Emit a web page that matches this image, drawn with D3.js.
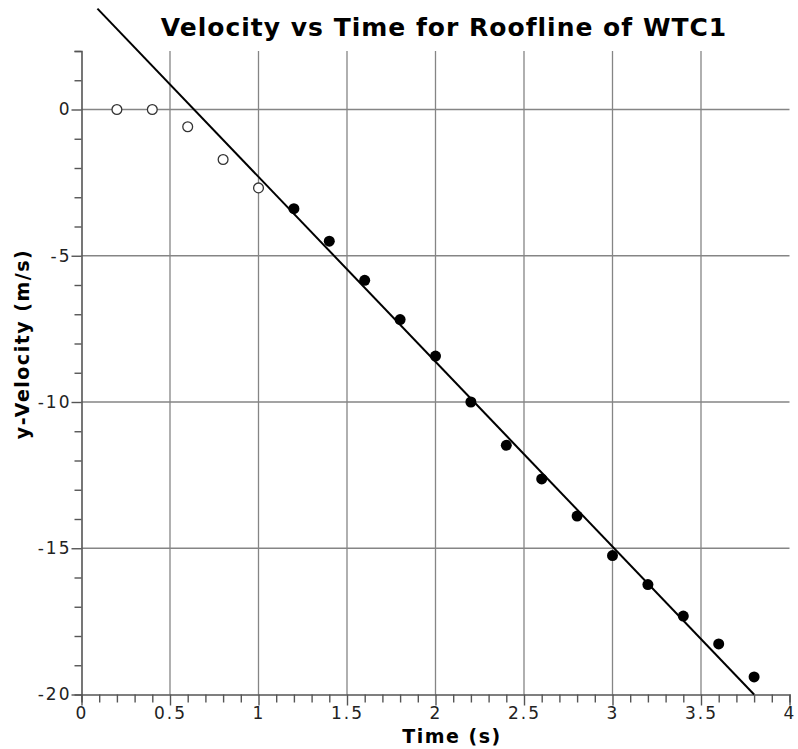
<!DOCTYPE html>
<html>
<head>
<meta charset="utf-8">
<script src="https://cdn.jsdelivr.net/npm/d3@7"></script>
<style>
  body { margin: 0; background: #fff; }
  text { font-family: "DejaVu Sans", sans-serif; }
</style>
</head>
<body>
<div id="chart"></div>
<script>
// data
var tOpen = [0.2, 0.4, 0.6, 0.8, 1.0];
var vOpen = [0, 0, -0.59, -1.71, -2.68];

var tFilled = [1.2, 1.4, 1.6, 1.8, 2.0, 2.2, 2.4, 2.6, 2.8, 3.0, 3.2, 3.4, 3.6, 3.8];
var vFilled = [-3.39, -4.50, -5.84, -7.18, -8.43, -10.0, -11.48, -12.63, -13.90, -15.25, -16.24, -17.32, -18.27, -19.40];

// end points of the fitted line
var fitT = [0.09, 3.8];
var fitV = [3.45, -20];

var xMajor = [0, 0.5, 1, 1.5, 2, 2.5, 3, 3.5, 4];
var yMajor = [0, -5, -10, -15, -20];

// svg area
var svgWidth = 798;
var svgHeight = 749;

var margin = { top: 51, right: 8.5, bottom: 54.5, left: 81.5 };
var chartWidth = svgWidth - margin.left - margin.right;
var chartHeight = svgHeight - margin.top - margin.bottom;

var svg = d3.select("#chart")
    .append("svg")
    .attr("width", svgWidth)
    .attr("height", svgHeight);

var chartGroup = svg.append("g")
    .attr("transform", `translate(${margin.left}, ${margin.top})`);

var xScale = d3.scaleLinear().domain([0, 4]).range([0, chartWidth]);
var yScale = d3.scaleLinear().domain([-20, 2]).range([chartHeight, 0]);

// grid lines
chartGroup.selectAll(".vgrid")
    .data(xMajor.filter(d => d > 0 && d < 4))
    .enter()
    .append("line")
    .attr("x1", d => xScale(d))
    .attr("x2", d => xScale(d))
    .attr("y1", 0)
    .attr("y2", chartHeight)
    .attr("stroke", "#858585")
    .attr("stroke-width", 1.3);

chartGroup.selectAll(".hgrid")
    .data(yMajor.filter(d => d > -20))
    .enter()
    .append("line")
    .attr("x1", 0)
    .attr("x2", chartWidth)
    .attr("y1", d => yScale(d))
    .attr("y2", d => yScale(d))
    .attr("stroke", "#858585")
    .attr("stroke-width", 1.3);

// x axis, minor tick every 0.1
var xTicks = d3.range(0, 41).map(i => i / 10);
var bottomAxis = d3.axisBottom(xScale)
    .tickValues(xTicks)
    .tickSizeOuter(0)
    .tickSize(8)
    .tickFormat(d => xMajor.some(m => Math.abs(m - d) < 1e-6) ? String(+d.toFixed(1)) : "");

var xAxis = chartGroup.append("g")
    .attr("transform", `translate(0, ${chartHeight})`)
    .call(bottomAxis);

xAxis.selectAll(".tick")
    .filter(d => xMajor.some(m => Math.abs(m - d) < 1e-6))
    .select("line")
    .attr("y2", 11);

xAxis.selectAll(".tick text")
    .attr("y", 12)
    .attr("dy", "0.71em");

// y axis, minor tick every 1
var yTicks = d3.range(-20, 3);
var leftAxis = d3.axisLeft(yScale)
    .tickValues(yTicks)
    .tickSizeOuter(0)
    .tickSize(7)
    .tickFormat(d => d % 5 === 0 ? String(d) : "");

var yAxis = chartGroup.append("g")
    .call(leftAxis);

yAxis.selectAll(".tick")
    .filter(d => d % 5 === 0)
    .select("line")
    .attr("x2", -10);

yAxis.selectAll(".tick text")
    .attr("x", -10);

[xAxis, yAxis].forEach(function(ax) {
    ax.select(".domain").attr("stroke", "#555").attr("stroke-width", 1.6);
    ax.selectAll(".tick line").attr("stroke", "#555").attr("stroke-width", 1.4);
    ax.selectAll(".tick text")
        .attr("fill", "#222")
        .style("font-size", "17px")
        .style("letter-spacing", "2px")
        .style("font-family", "DejaVu Sans");
});

// fitted line
var line = d3.line()
    .x(d => xScale(d[0]))
    .y(d => yScale(d[1]));

chartGroup.append("path")
    .datum(fitT.map((t, i) => [t, fitV[i]]))
    .attr("d", line)
    .attr("fill", "none")
    .attr("stroke", "#000")
    .attr("stroke-width", 2);

// points
chartGroup.selectAll(".openPt")
    .data(tOpen.map((t, i) => [t, vOpen[i]]))
    .enter()
    .append("circle")
    .attr("cx", d => xScale(d[0]))
    .attr("cy", d => yScale(d[1]))
    .attr("r", 4.9)
    .attr("fill", "#fff")
    .attr("stroke", "#333")
    .attr("stroke-width", 1.3);

chartGroup.selectAll(".filledPt")
    .data(tFilled.map((t, i) => [t, vFilled[i]]))
    .enter()
    .append("circle")
    .attr("cx", d => xScale(d[0]))
    .attr("cy", d => yScale(d[1]))
    .attr("r", 5.5)
    .attr("fill", "#000");

// title and axis labels
svg.append("text")
    .attr("x", 444)
    .attr("y", 36)
    .attr("text-anchor", "middle")
    .style("font-size", "25px")
    .style("font-weight", "bold")
    .style("letter-spacing", "1px")
    .text("Velocity vs Time for Roofline of WTC1");

svg.append("text")
    .attr("x", 452)
    .attr("y", 743)
    .attr("text-anchor", "middle")
    .style("font-size", "19px")
    .style("font-weight", "bold")
    .style("letter-spacing", "1.5px")
    .text("Time (s)");

svg.append("text")
    .attr("transform", "translate(29, 344) rotate(-90)")
    .attr("text-anchor", "middle")
    .style("font-size", "19px")
    .style("font-weight", "bold")
    .style("letter-spacing", "1.5px")
    .text("y-Velocity (m/s)");
</script>
</body>
</html>
